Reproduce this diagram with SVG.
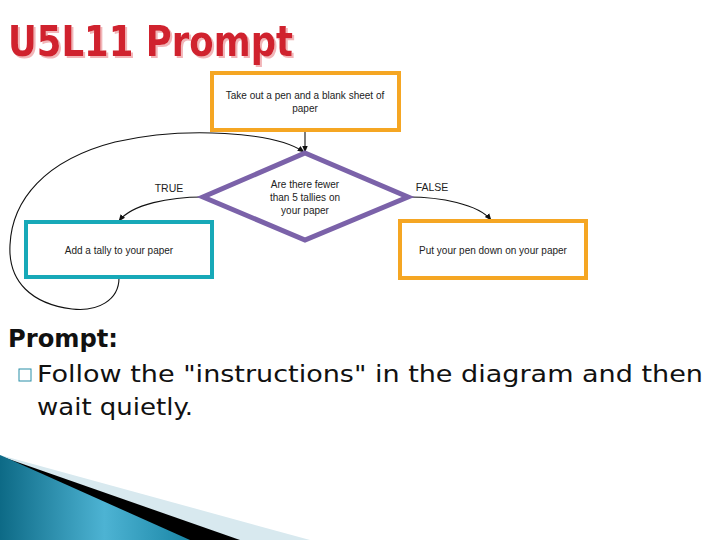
<svg xmlns="http://www.w3.org/2000/svg" width="720" height="540" viewBox="0 0 720 540">
<style>
.node text{font-family:"Liberation Sans",Arial,sans-serif;font-size:10px;fill:#222;text-anchor:middle}
.lbl{font-family:"Liberation Sans",Arial,sans-serif;font-size:10.5px;fill:#222;text-anchor:middle}
.conn{fill:none;stroke:#111;stroke-width:1.1;marker-end:url(#ah)}
.body{font-family:"DejaVu Sans Condensed","DejaVu Sans","Liberation Sans",sans-serif;fill:#111}
</style>
<defs>
<marker id="ah" viewBox="0 0 10 10" refX="9" refY="5" markerWidth="7" markerHeight="7" orient="auto" markerUnits="userSpaceOnUse">
<path d="M0,1 L10,5 L0,9 Z" fill="#111"/>
</marker>
<linearGradient id="tg" x1="0" y1="0" x2="1" y2="0">
<stop offset="0" stop-color="#0d6a86"/>
<stop offset="0.55" stop-color="#4db3d3"/>
<stop offset="1" stop-color="#1a86a6"/>
</linearGradient>
<filter id="sh" x="-5%" y="-20%" width="115%" height="150%">
<feOffset in="SourceAlpha" dx="1.5" dy="2" result="o"/>
<feFlood flood-color="#f2b5b8"/>
<feComposite in2="o" operator="in" result="s"/>
<feMerge><feMergeNode in="s"/><feMergeNode in="SourceGraphic"/></feMerge>
</filter>
</defs>
<rect width="720" height="540" fill="#fff"/>
<g id="title">
<text x="8" y="56" font-family="'DejaVu Sans Condensed','DejaVu Sans',sans-serif" font-weight="bold" font-size="43" fill="#d0202e" textLength="285" lengthAdjust="spacingAndGlyphs" filter="url(#sh)">U5L11 Prompt</text>
</g>
<g id="connectors">
<path class="conn" d="M305,131 L305,152"/>
<path class="conn" d="M203,197 C170,197 132,204 119,221"/>
<path class="conn" d="M408,197 C440,197 478,204 491,220"/>
<path class="conn" d="M119,278 C119,300 98,312 72,309 C32,304 8,282 10,245 C12,200 45,160 115,142 C185,126 275,132 304,152"/>
<text class="lbl" x="169" y="192">TRUE</text>
<text class="lbl" x="432" y="191">FALSE</text>
</g>
<g id="start" class="node">
<rect x="212" y="73" width="187" height="57" fill="#fff" stroke="#f5a623" stroke-width="4"/>
<text x="305" y="99">Take out a pen and a blank sheet of</text>
<text x="305" y="112">paper</text>
</g>
<g id="decision" class="node">
<polygon points="305,153 408,197 305,240 203,197" fill="#fff" stroke="#7b62a9" stroke-width="5" stroke-linejoin="miter"/>
<text x="305" y="188">Are there fewer</text>
<text x="305" y="201">than 5 tallies on</text>
<text x="305" y="214">your paper</text>
</g>
<g id="add-tally" class="node">
<rect x="26" y="222" width="186" height="55" fill="#fff" stroke="#17a9b8" stroke-width="4"/>
<text x="119" y="254">Add a tally to your paper</text>
</g>
<g id="pen-down" class="node">
<rect x="400" y="221" width="186" height="57" fill="#fff" stroke="#f5a623" stroke-width="4"/>
<text x="493" y="254">Put your pen down on your paper</text>
</g>
<g id="prompt">
<text class="body" x="8" y="347" font-size="24" font-weight="bold" textLength="110" lengthAdjust="spacingAndGlyphs">Prompt:</text>
<rect x="19" y="369" width="12" height="12" fill="none" stroke="#2a8fa8" stroke-width="1"/>
<text class="body" x="37" y="382" font-size="23" textLength="666" lengthAdjust="spacingAndGlyphs">Follow the "instructions" in the diagram and then</text>
<text class="body" x="37" y="415" font-size="23" textLength="156" lengthAdjust="spacingAndGlyphs">wait quietly.</text>
</g>
<g id="decoration">
<polygon points="0,455 310,540 0,540" fill="#d8e9ef"/>
<polygon points="0,456 240,540 0,540" fill="#000"/>
<polygon points="0,455 190,540 0,540" fill="url(#tg)"/>
</g>
</svg>
